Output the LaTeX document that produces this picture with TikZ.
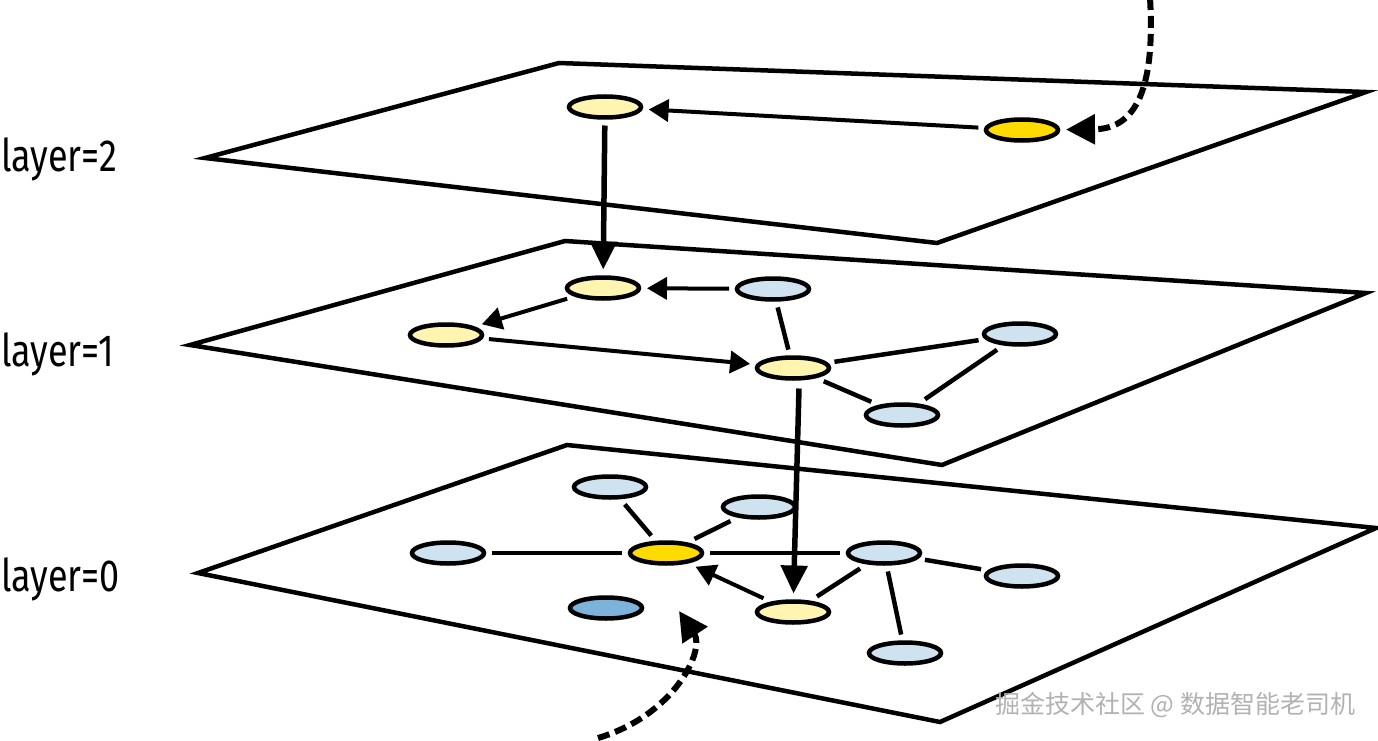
\documentclass[tikz,border=0pt]{standalone}
\usepackage{fontspec}
\newfontfamily\labfont[FakeStretch=0.8]{Fira Sans}
\newfontfamily\cjkfont{Noto Sans CJK SC}
\usetikzlibrary{arrows.meta,shapes.geometric}
\definecolor{lyel}{HTML}{FFF4B0}
\definecolor{gold}{HTML}{FFDB00}
\definecolor{lblue}{HTML}{CFE2F0}
\definecolor{dblue}{HTML}{7DB2DB}
\tikzset{
  plane/.style={draw=black, fill=white, line width=4.5pt, line join=miter},
  nd/.style={ellipse, draw=black, line width=4.5pt, minimum width=72pt, minimum height=21pt, inner sep=0pt, outer sep=8pt},
  ny/.style={nd, fill=lyel},
  ng/.style={nd, fill=gold},
  nb/.style={nd, fill=lblue},
  nbd/.style={nd, fill=dblue},
  link/.style={line width=4.5pt},
  arr/.style={line width=4pt, -{Triangle[length=20pt,width=22pt]}},
  varr/.style={line width=5.5pt, -{Triangle[length=28pt,width=26pt]}},
  darr/.style={line width=6pt, dash pattern=on 12pt off 6pt, -{Triangle[length=29pt,width=29pt]}},
  lab/.style={font=\labfont\fontsize{45}{45}\selectfont, inner sep=0pt, anchor=base west}
}
\begin{document}
\begin{tikzpicture}[x=1pt,y=-1pt]
\useasboundingbox (0,0) rectangle (1378,741);
\fill[white] (0,0) rectangle (1378,741);
% planes
\draw[plane] (205,158) -- (559,63) -- (1366,92) -- (937,243) -- cycle;
\draw[plane] (190,345) -- (565,241) -- (1366,293) -- (942,465) -- cycle;
\draw[plane] (198,573) -- (567,445) -- (1376,528) -- (940,722) -- cycle;
% labels
\node[lab] (l2) at (1,171) {layer=2};
\node[lab] (l1) at (1,366) {layer=1};
\node[lab] (l0) at (1,591) {layer=0};
% layer 2 nodes
\node[ny] (a2) at (605,107) {};
\node[ng] (g2) at (1022,130) {};
% layer 1 nodes
\node[ny] (a1) at (603,288) {};
\node[nb] (b1) at (773,289) {};
\node[ny] (c1) at (446,335) {};
\node[nb] (d1) at (1020,334) {};
\node[ny] (e1) at (793,368) {};
\node[nb] (f1) at (902,415) {};
% layer 0 nodes
\node[nb] (p0) at (610,487) {};
\node[nb] (q0) at (759,507) {};
\node[nb] (r0) at (448,553) {};
\node[ng] (s0) at (666,553) {};
\node[nb] (t0) at (884,553) {};
\node[nb] (u0) at (1022,576) {};
\node[nbd] (v0) at (606,608) {};
\node[ny] (w0) at (793,612) {};
\node[nb] (x0) at (905,653) {};
% layer 2 edges
\draw[arr] (g2) -- (a2);
% layer 1 edges
\draw[arr] (b1) -- (a1);
\draw[arr] (a1) -- (c1);
\draw[arr] (c1) -- (e1);
\draw[link] (b1) -- (e1);
\draw[link] (e1) -- (d1);
\draw[link] (e1) -- (f1);
\draw[link] (d1) -- (f1);
% layer 0 edges
\draw[link] (r0) -- (s0);
\draw[link] (p0) -- (s0);
\draw[link] (q0) -- (s0);
\draw[link] (s0) -- (t0);
\draw[link] (t0) -- (u0);
\draw[link] (t0) -- (x0);
\draw[link] (t0) -- (w0);
\draw[arr] (w0) -- (s0);
% inter-layer
\draw[varr] (a2) -- (a1);
\draw[varr] (e1.south) ++(6,2) coordinate (e1s) (e1s) -- (w0);
% entry arrows
\coordinate (topin) at (1150,-2);
\draw[darr] (topin) .. controls (1156,100) and (1130,129) .. (g2);
\coordinate (botin) at (598,738);
\coordinate (botend) at (679,611);
\draw[darr] (botin) .. controls (675,715) and (705,650) .. (botend);
% watermark
\node[anchor=west, text=gray!60, font=\cjkfont\fontsize{25}{25}\selectfont, inner sep=0pt] (wm) at (995,705) {掘金技术社区 @ 数据智能老司机};
\end{tikzpicture}
\end{document}
